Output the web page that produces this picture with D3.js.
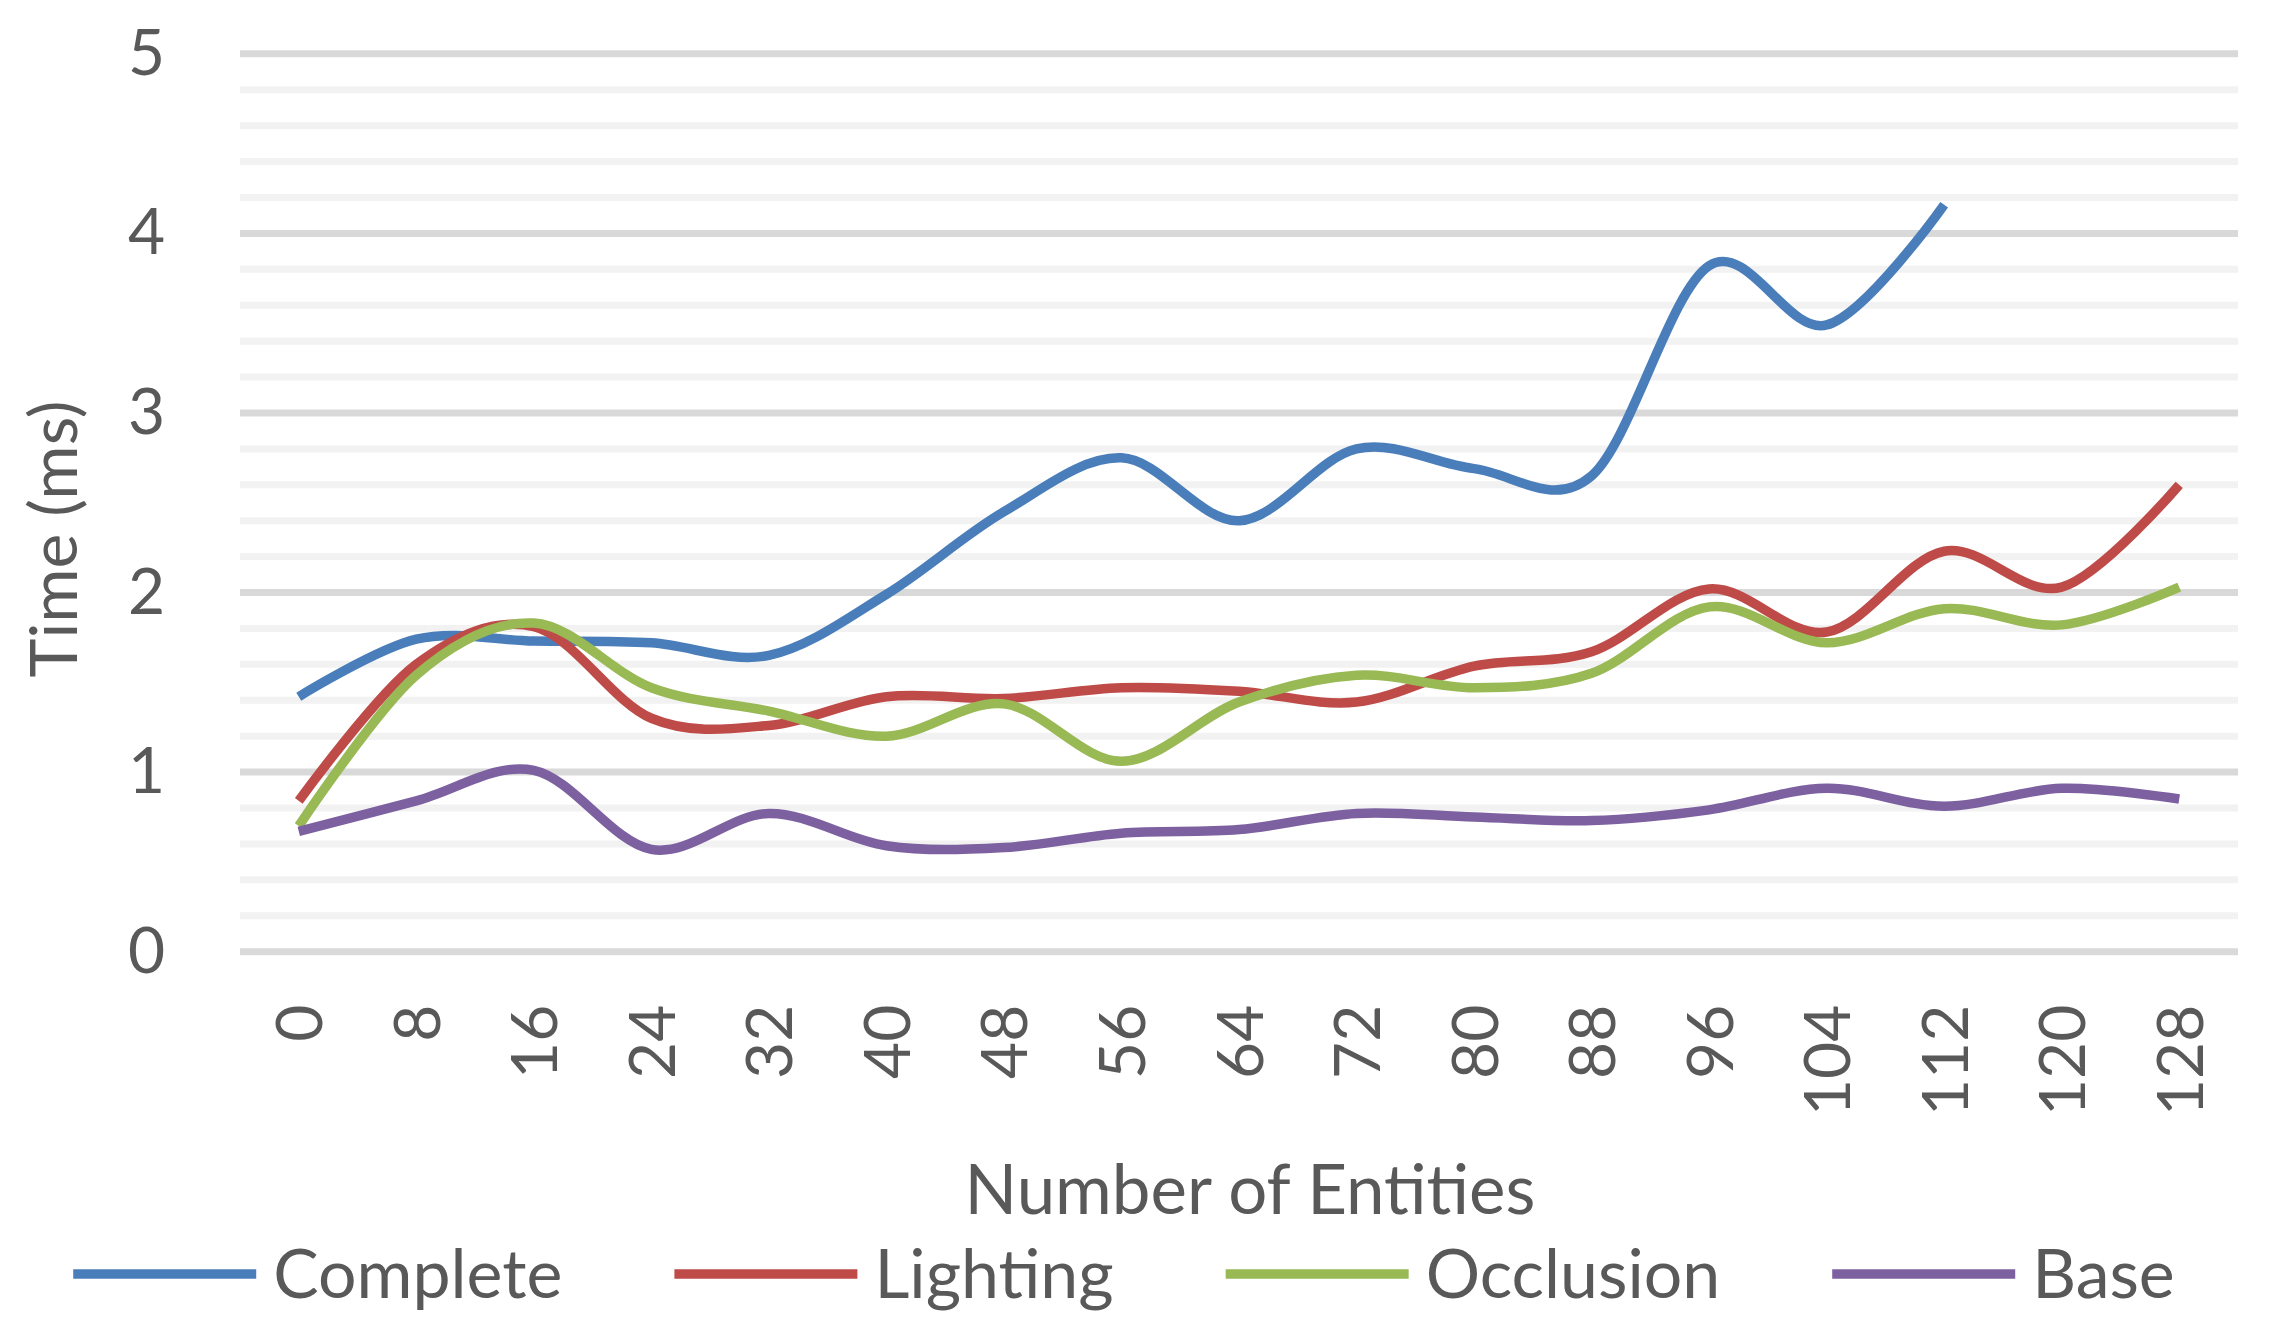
<!DOCTYPE html>
<html>
<head>
<meta charset="utf-8">
<script src="https://cdn.jsdelivr.net/npm/d3@7"></script>
<style>
  body { margin: 0; background: #fff; }
  text { font-family: Lato, "Open Sans", sans-serif; fill: #595959; }
</style>
</head>
<body>
<div id="chart"></div>
<script>
// Data
const entities = [0, 8, 16, 24, 32, 40, 48, 56, 64, 72, 80, 88, 96, 104, 112, 120, 128];
const complete  = [1.42, 1.74, 1.73, 1.72, 1.65, 1.99, 2.45, 2.75, 2.40, 2.80, 2.69, 2.65, 3.82, 3.49, 4.16, null, null];
const lighting  = [0.84, 1.60, 1.81, 1.30, 1.26, 1.42, 1.41, 1.47, 1.45, 1.39, 1.59, 1.67, 2.02, 1.78, 2.23, 2.03, 2.60];
const occlusion = [0.70, 1.54, 1.83, 1.47, 1.34, 1.20, 1.38, 1.06, 1.39, 1.54, 1.47, 1.55, 1.92, 1.72, 1.91, 1.82, 2.03];
const base      = [0.67, 0.84, 1.01, 0.57, 0.77, 0.59, 0.58, 0.66, 0.68, 0.77, 0.75, 0.73, 0.79, 0.91, 0.81, 0.91, 0.85];
const yTicks = [0, 1, 2, 3, 4, 5];

const seriesNames = ["Complete", "Lighting", "Occlusion", "Base"];
const seriesColors = ["#4a7ebb", "#be4b48", "#98b954", "#7d60a0"];
const series = [complete, lighting, occlusion, base];

const width = 2277, height = 1331;
const margin = { top: 53.8, right: 39, bottom: 379.3, left: 240 };

const svg = d3.select("#chart")
    .append("svg")
    .attr("width", width)
    .attr("height", height);

// Scales
const xScale = d3.scalePoint()
    .domain(entities)
    .range([margin.left, width - margin.right])
    .padding(0.5);

const yScale = d3.scaleLinear()
    .domain([0, 5])
    .range([height - margin.bottom, margin.top]);

// Minor gridlines every 0.2
const minor = d3.range(1, 25).map(i => i / 5).filter(v => Math.abs(v - Math.round(v)) > 1e-6);
svg.append("g")
    .selectAll("line")
    .data(minor)
    .enter()
    .append("line")
    .attr("x1", margin.left)
    .attr("x2", width - margin.right)
    .attr("y1", d => yScale(d))
    .attr("y2", d => yScale(d))
    .attr("stroke", "#f2f2f2")
    .attr("stroke-width", 7);

// Major gridlines
svg.append("g")
    .selectAll("line")
    .data(yTicks)
    .enter()
    .append("line")
    .attr("x1", margin.left)
    .attr("x2", width - margin.right)
    .attr("y1", d => yScale(d))
    .attr("y2", d => yScale(d))
    .attr("stroke", "#d9d9d9")
    .attr("stroke-width", 7);

// Y axis
const yAxis = svg.append("g")
    .attr("transform", `translate(${margin.left},0)`)
    .call(d3.axisLeft(yScale).tickValues(yTicks).tickFormat(d3.format("d")).tickSize(0).tickPadding(75));
yAxis.select(".domain").remove();
yAxis.selectAll("text")
    .style("font-size", "64px")
    .style("font-family", "Lato, sans-serif")
    .attr("fill", "#595959");

// X axis
const xAxis = svg.append("g")
    .attr("transform", `translate(0,${height - margin.bottom})`)
    .call(d3.axisBottom(xScale).tickSize(0));
xAxis.select(".domain").remove();
xAxis.selectAll("text")
    .attr("transform", "rotate(-90)")
    .attr("x", -53)
    .attr("y", 0)
    .attr("dy", "0.36em")
    .style("text-anchor", "end")
    .style("font-size", "64px")
    .style("font-family", "Lato, sans-serif")
    .attr("fill", "#595959");

// Axis titles
svg.append("text")
    .attr("transform", "translate(54,539) rotate(-90)")
    .attr("dy", "0.35em")
    .style("text-anchor", "middle")
    .style("font-size", "66px")
    .text("Time (ms)");

svg.append("text")
    .attr("x", 1250)
    .attr("y", 1190)
    .attr("dy", "0.35em")
    .style("text-anchor", "middle")
    .style("font-size", "69px")
    .text("Number of Entities");

// Lines
const line = d3.line()
    .defined(d => d.v !== null)
    .x(d => xScale(d.x))
    .y(d => yScale(d.v))
    .curve(d3.curveCatmullRom.alpha(0));

series.forEach(function(values, i) {
    svg.append("path")
        .datum(entities.map((x, j) => ({ x: x, v: values[j] })))
        .attr("d", line)
        .attr("fill", "none")
        .attr("stroke", seriesColors[i])
        .attr("stroke-width", 9.5)
        .attr("stroke-linejoin", "round");
});

// Legend
const legend = svg.append("g");
let lx = 0;
seriesNames.forEach(function(name, i) {
    const item = legend.append("g").attr("transform", `translate(${lx},1274)`);
    item.append("line")
        .attr("x1", 0).attr("x2", 183)
        .attr("y1", 0).attr("y2", 0)
        .attr("stroke", seriesColors[i])
        .attr("stroke-width", 9.5);
    const t = item.append("text")
        .attr("x", 200)
        .attr("dy", "0.35em")
        .style("font-size", "68px")
        .text(name);
    lx += 200 + t.node().getComputedTextLength() + 112;
});
const legendWidth = lx - 112;
legend.attr("transform", `translate(${1124 - legendWidth / 2},0)`);
</script>
</body>
</html>
